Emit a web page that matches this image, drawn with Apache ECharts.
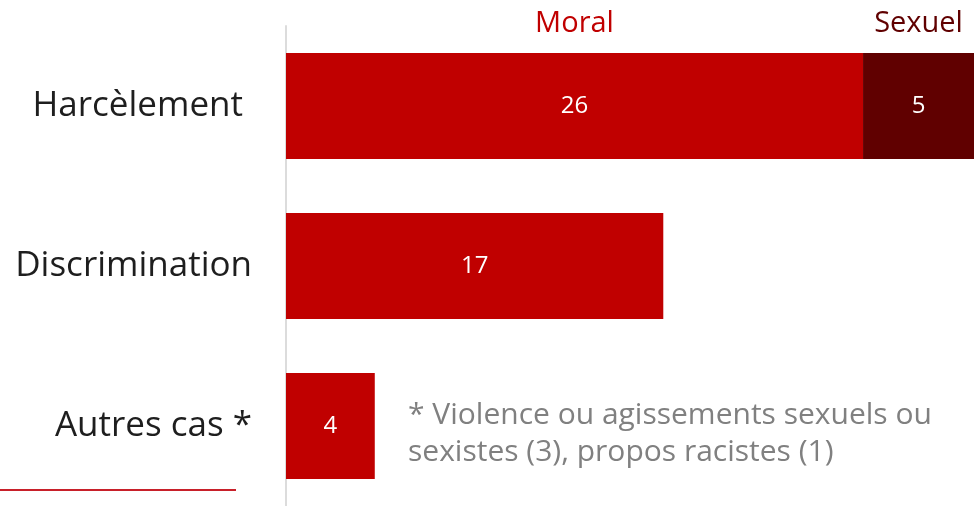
<!DOCTYPE html>
<html><head><meta charset="utf-8">
<script src="https://cdn.jsdelivr.net/npm/echarts@6/dist/echarts.min.js"></script>
<style>html,body{margin:0;padding:0;background:#fff}#c{width:974px;height:506px}</style>
</head><body><div id="c"></div>
<script>
const categories = ['Harcèlement', 'Discrimination', 'Autres cas *'];
const moral = [26, 17, 4];
const sexuel = [5, null, null];
const seriesNames = ['Moral', 'Sexuel'];
const footnote = ['* Violence ou agissements sexuels ou', 'sexistes (3), propos racistes (1)'];

const FONT = '"Open Sans"';
const chart = echarts.init(document.getElementById('c'));
chart.setOption({
  animation: false,
  grid: { left: 286, top: 26, width: 693, height: 486, containLabel: false },
  xAxis: { type: 'value', min: 0, max: 31, show: false },
  yAxis: {
    type: 'category', inverse: true,
    data: categories.map((c, i) => i === 0 ? { value: c, textStyle: { padding: [0, 9, 0, 0] } } : c),
    axisLine: { show: true, lineStyle: { color: '#dcdcdc', width: 2 } },
    axisTick: { show: false },
    axisLabel: { fontFamily: FONT, fontSize: 35, color: '#1e1e1e', margin: 34 }
  },
  series: [
    {
      name: seriesNames[0], type: 'bar', stack: 's', data: moral, barWidth: 106,
      itemStyle: { color: '#c00000' },
      label: { show: true, position: 'inside', color: '#fff', fontFamily: FONT, fontSize: 24, fontWeight: 500 },
      markPoint: {
        symbol: 'rect', symbolSize: 1, itemStyle: { color: 'rgba(0,0,0,0)' },
        label: { show: true, position: 'inside', offset: [0, -82], formatter: seriesNames[0], color: '#c00000', fontFamily: FONT, fontSize: 29 },
        data: [{ coord: [moral[0] / 2, categories[0]] }]
      }
    },
    {
      name: seriesNames[1], type: 'bar', stack: 's', data: sexuel, barWidth: 106,
      itemStyle: { color: '#600000' },
      label: { show: true, position: 'inside', color: '#fff', fontFamily: FONT, fontSize: 24, fontWeight: 500 },
      markPoint: {
        symbol: 'rect', symbolSize: 1, itemStyle: { color: 'rgba(0,0,0,0)' },
        label: { show: true, position: 'inside', offset: [0, -82], formatter: seriesNames[1], color: '#600000', fontFamily: FONT, fontSize: 29 },
        data: [{ coord: [moral[0] + sexuel[0] / 2, categories[0]] }]
      }
    }
  ],
  graphic: [
    { type: 'text', left: 408, top: 397, style: { text: footnote.join('\n'), fill: '#808080', font: '30px ' + FONT, lineHeight: 37 } },
    { type: 'line', shape: { x1: 0, y1: 490, x2: 236, y2: 490 }, style: { stroke: '#c8202a', lineWidth: 2 } }
  ]
});
</script></body></html>
